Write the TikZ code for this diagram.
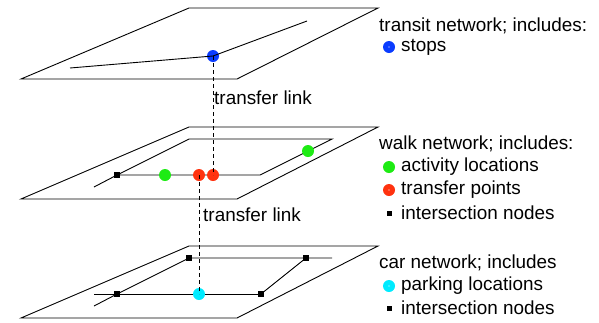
\documentclass[tikz,border=0pt]{standalone}
\usepackage{fontspec}
\setmainfont{Liberation Sans}
\definecolor{stopblue}{RGB}{10,60,255}
\definecolor{actgreen}{RGB}{30,235,20}
\definecolor{xferred}{RGB}{255,50,15}
\definecolor{parkcyan}{RGB}{0,235,255}
\begin{document}
\begin{tikzpicture}[x=1pt,y=-1pt,
  plane/.style={draw=black,line width=0.9pt},
  link/.style={draw=black,line width=0.9pt},
  tlink/.style={draw=black,line width=0.8pt,dash pattern=on 4pt off 3pt},
  dot/.style={circle,inner sep=0pt,minimum size=12pt},
  sq/.style={rectangle,fill=black,inner sep=0pt,minimum size=5.5pt},
  legtext/.style={anchor=west,inner sep=0pt,font=\fontsize{18.9}{21}\selectfont},
  hole/.style={circle,fill=white,inner sep=0pt,minimum size=1.4pt}]
\useasboundingbox (0,0) rectangle (599,322);

% --- transit layer ---
\draw[plane] (21,79) -- (237,79) -- (378,8) -- (189,8) -- cycle;
\coordinate (t1) at (70,68);
\coordinate (t2) at (307,21);
\node[dot,fill=stopblue] (stop) at (213,56) {};
\draw[link] (t1) -- (stop.center) -- (t2);

% --- walk layer ---
\draw[plane] (21,199) -- (237,199) -- (378,127) -- (189,127) -- cycle;
\coordinate (w1) at (189,139);
\coordinate (w2) at (332,139);
\coordinate (w3) at (260,175);
\coordinate (w4) at (94,187);
\node[sq] (wi) at (117,175) {};
\draw[link] (w4) -- (wi.center) -- (w1) -- (w2) -- (w3) -- (wi.center);
\node[dot,fill=actgreen] (wa1) at (165,175) {};
\node[dot,fill=actgreen] (wa2) at (308,151) {};
\node[dot,fill=xferred] (wt1) at (199,175) {};
\node[dot,fill=xferred] (wt2) at (213,175) {};

% --- car layer ---
\draw[plane] (21,318) -- (237,318) -- (378,246) -- (189,246) -- cycle;
\coordinate (c4) at (94,306);
\coordinate (c5) at (332,258);
\coordinate (c6) at (94,294);
\node[sq] (ci1) at (189,258) {};
\node[sq] (ci2) at (306,258) {};
\node[sq] (ci3) at (261,294) {};
\node[sq] (ci4) at (117,294) {};
\draw[link] (c4) -- (ci4.center) -- (ci1.center) -- (c5);
\draw[link] (ci2.center) -- (ci3.center);
\draw[link] (c6) -- (ci3.center);
\node[dot,fill=parkcyan] (park) at (199,294) {};

% --- transfer links ---
\draw[tlink] (stop.center) -- (wt2.center);
\draw[tlink] (wt1.center) -- (park.center);
\node[legtext] (tl1) at (214,98) {transfer link};
\node[legtext] (tl2) at (203,215) {transfer link};

% --- legend ---
\node[legtext] (lt) at (379,26) {transit network; includes:};
\node[dot,fill=stopblue] (ls) at (389,47) {};
\node[hole] at (ls) {};
\node[legtext] at (401,47) {stops};

\node[legtext] (lw) at (379,144) {walk network; includes:};
\node[dot,fill=actgreen] (la) at (389,167) {};
\node[legtext] at (401,167) {activity locations};
\node[dot,fill=xferred] (lx) at (389,190) {};
\node[hole] at (lx) {};
\node[legtext] at (401,190) {transfer points};
\node[sq,minimum size=5pt] (li1) at (389,213) {};
\node[legtext] at (401,213) {intersection nodes};

\node[legtext] (lc) at (379,263) {car network; includes};
\node[dot,fill=parkcyan] (lp) at (389,286) {};
\node[hole] at (lp) {};
\node[legtext] at (401,286) {parking locations};
\node[sq,minimum size=5pt] (li2) at (389,308) {};
\node[legtext] at (401,308) {intersection nodes};
\end{tikzpicture}
\end{document}
